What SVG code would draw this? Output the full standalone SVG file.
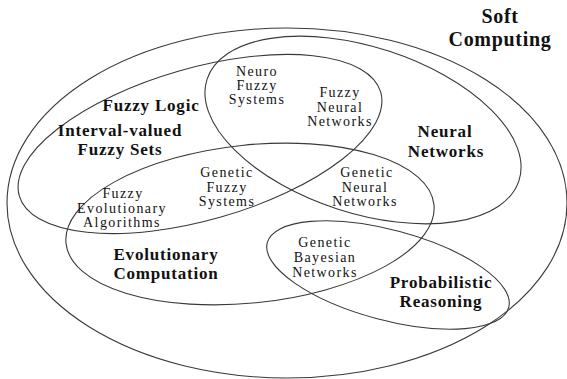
<svg xmlns="http://www.w3.org/2000/svg" width="567" height="379" viewBox="0 0 567 379">
<style>
.set{fill:none;stroke:#3a3a3a;stroke-width:1.1}
.b{font-family:"Liberation Serif","Times New Roman",serif;font-weight:bold;font-size:17px;fill:#111;text-anchor:middle;letter-spacing:0.8px}
.t{font-family:"Liberation Serif","Times New Roman",serif;font-size:14px;fill:#111;text-anchor:middle;letter-spacing:1.4px}
</style>
<rect width="567" height="379" fill="#fff"/>
<g id="soft-computing">
<ellipse class="set" cx="287" cy="203" rx="280" ry="175"/>
<text class="b" style="font-size:20px;letter-spacing:0.7px"><tspan x="500" y="23">Soft</tspan><tspan x="500" y="46">Computing</tspan></text>
</g>
<g id="neural-networks">
<ellipse class="set" cx="363" cy="130" rx="164" ry="83" transform="rotate(18 363 130)"/>
<text class="b"><tspan x="445" y="137">Neural</tspan><tspan x="446" y="157">Networks</tspan></text>
</g>
<g id="fuzzy-logic">
<ellipse class="set" cx="200" cy="144" rx="188" ry="76" transform="rotate(-16 200 144)"/>
<text class="b" x="151" y="111">Fuzzy Logic</text>
</g>
<g id="interval-valued-fuzzy-sets">
<text class="b"><tspan x="120" y="136">Interval-valued</tspan><tspan x="120" y="155">Fuzzy Sets</tspan></text>
</g>
<g id="evolutionary-computation">
<ellipse class="set" cx="250" cy="224" rx="185" ry="79" transform="rotate(-6 250 224)"/>
<text class="b"><tspan x="166" y="260">Evolutionary</tspan><tspan x="166" y="279">Computation</tspan></text>
</g>
<g id="probabilistic-reasoning">
<ellipse class="set" cx="388" cy="275" rx="125" ry="45" transform="rotate(15 388 275)"/>
<text class="b"><tspan x="441" y="288">Probabilistic</tspan><tspan x="441" y="307">Reasoning</tspan></text>
</g>
<g id="neuro-fuzzy-systems">
<text class="t"><tspan x="257" y="76">Neuro</tspan><tspan x="257" y="90">Fuzzy</tspan><tspan x="257" y="104">Systems</tspan></text>
</g>
<g id="fuzzy-neural-networks">
<text class="t"><tspan x="340" y="97">Fuzzy</tspan><tspan x="340" y="112">Neural</tspan><tspan x="340" y="126">Networks</tspan></text>
</g>
<g id="genetic-fuzzy-systems">
<text class="t"><tspan x="227" y="177">Genetic</tspan><tspan x="227" y="192">Fuzzy</tspan><tspan x="227" y="206">Systems</tspan></text>
</g>
<g id="fuzzy-evolutionary-algorithms">
<text class="t"><tspan x="123" y="198">Fuzzy</tspan><tspan x="122" y="213">Evolutionary</tspan><tspan x="122" y="227">Algorithms</tspan></text>
</g>
<g id="genetic-neural-networks">
<text class="t"><tspan x="367" y="177">Genetic</tspan><tspan x="365" y="192">Neural</tspan><tspan x="365" y="206">Networks</tspan></text>
</g>
<g id="genetic-bayesian-networks">
<text class="t"><tspan x="325" y="247">Genetic</tspan><tspan x="325" y="262">Bayesian</tspan><tspan x="325" y="277">Networks</tspan></text>
</g>
<g id="connectors"/>
</svg>
